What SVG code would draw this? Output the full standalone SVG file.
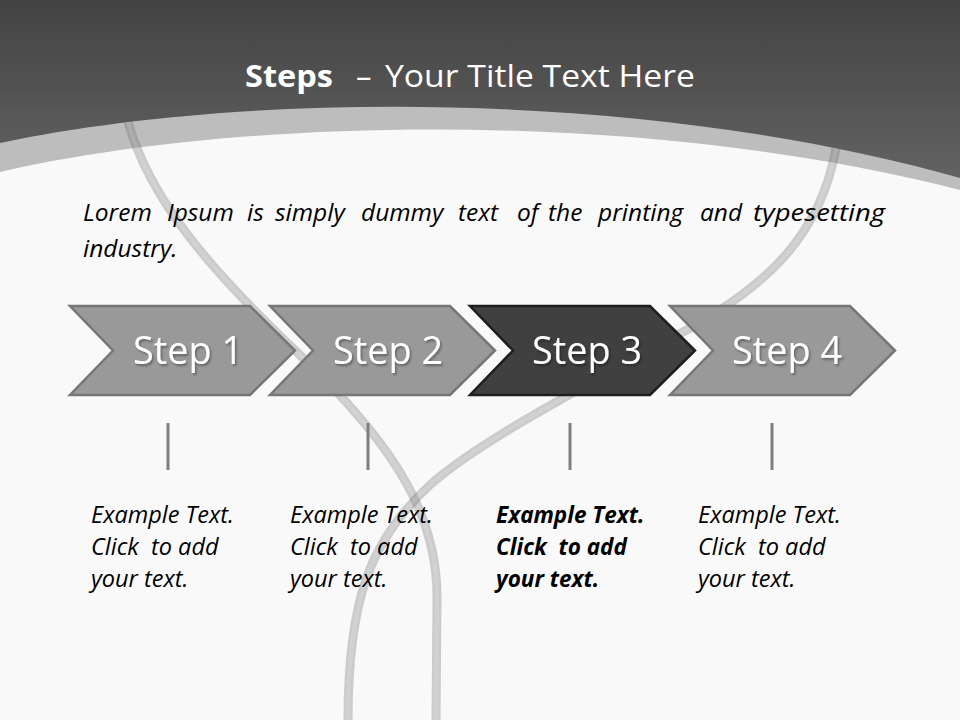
<svg xmlns="http://www.w3.org/2000/svg" width="960" height="720" viewBox="0 0 960 720">
<defs>
<linearGradient id="hdr" x1="0" y1="0" x2="0" y2="1">
<stop offset="0" stop-color="#434343"/>
<stop offset="1" stop-color="#626262"/>
</linearGradient>
<filter id="sh" x="-10%" y="-10%" width="130%" height="140%">
<feDropShadow dx="1.5" dy="2" stdDeviation="1.2" flood-color="#000" flood-opacity="0.35"/>
</filter>
<style>
.curve{fill:none;stroke:#6e6e6e;stroke-opacity:0.33;stroke-width:9;stroke-linecap:butt}
.curvehl{fill:none;stroke:#ffffff;stroke-opacity:0.12;stroke-width:4}
.chev{fill:#999999;stroke:#767676;stroke-width:2.5;stroke-linejoin:miter}
.chev.dark{fill:#404040;stroke:#1e1e1e}
.lbl{font-family:"Open Sans",Lato,sans-serif;font-size:38px;fill:#ffffff;text-anchor:middle}
.tick{stroke:#7f7f7f;stroke-width:3}
.ex{font-family:"Open Sans",Lato,sans-serif;font-style:italic;font-size:23.5px;fill:#000000}
.exb{font-weight:bold;font-size:22.5px}
.lorem{font-family:"Open Sans",Lato,sans-serif;font-style:italic;font-size:24.5px;fill:#000000}
.title{font-family:"Open Sans",Lato,sans-serif;font-size:31px;fill:#ffffff}
</style>
</defs>
<rect x="0" y="0" width="960" height="720" fill="#f9f9f9"/>
<g id="header">
<path d="M0,0 H960 V190 L960,190 C650,110 250,115 0,172 Z" fill="#bdbdbd"/>
<path d="M0,0 H960 V178 C650,90 250,90 0,143 Z" fill="url(#hdr)"/>
<text class="title" x="245" y="87" font-weight="bold" textLength="88" lengthAdjust="spacingAndGlyphs">Steps</text>
<text class="title" x="356" y="87">–</text>
<text class="title" x="385" y="87" textLength="310" lengthAdjust="spacingAndGlyphs">Your Title Text Here</text>
</g>
<g id="curves">
<path class="curve" d="M128,122 C150,200 210,270 300,355 C400,450 438,520 437,600 L436,720"/>
<path class="curvehl" d="M128,122 C150,200 210,270 300,355 C400,450 438,520 437,600 L436,720"/>
<path class="curve" d="M836,148 C820,240 760,290 683,332 C600,378 480,440 430,485 C370,540 348,600 348,720"/>
<path class="curvehl" d="M836,148 C820,240 760,290 683,332 C600,378 480,440 430,485 C370,540 348,600 348,720"/>
</g>
<g id="intro">
<text class="lorem" x="83" y="221">Lorem</text>
<text class="lorem" x="167" y="221">Ipsum</text>
<text class="lorem" x="247" y="221">is</text>
<text class="lorem" x="275" y="221">simply</text>
<text class="lorem" x="361" y="221">dummy</text>
<text class="lorem" x="458" y="221">text</text>
<text class="lorem" x="517" y="221">of</text>
<text class="lorem" x="548" y="221">the</text>
<text class="lorem" x="598" y="221">printing</text>
<text class="lorem" x="700" y="221">and</text>
<text class="lorem" x="753" y="221" textLength="132" lengthAdjust="spacingAndGlyphs">typesetting</text>
<text class="lorem" x="83" y="257">industry.</text>
</g>
<g id="step1">
<path class="chev" d="M70,306 H250 L295,350.5 L250,395 H70 L113,350.5 Z"/>
<text class="lbl" x="188" y="364" filter="url(#sh)" textLength="110" lengthAdjust="spacingAndGlyphs">Step 1</text>
</g>
<g id="step2">
<path class="chev" d="M270,306 H450 L495,350.5 L450,395 H270 L313,350.5 Z"/>
<text class="lbl" x="388" y="364" filter="url(#sh)" textLength="110" lengthAdjust="spacingAndGlyphs">Step 2</text>
</g>
<g id="step3">
<path class="chev dark" d="M470,306 H650 L695,350.5 L650,395 H470 L513,350.5 Z"/>
<text class="lbl" x="587" y="364" filter="url(#sh)" textLength="110" lengthAdjust="spacingAndGlyphs">Step 3</text>
</g>
<g id="step4">
<path class="chev" d="M670,306 H850 L895,350.5 L850,395 H670 L713,350.5 Z"/>
<text class="lbl" x="787" y="364" filter="url(#sh)" textLength="110" lengthAdjust="spacingAndGlyphs">Step 4</text>
</g>
<g id="connectors">
<line class="tick" x1="168" y1="423" x2="168" y2="470"/>
<line class="tick" x1="368" y1="423" x2="368" y2="470"/>
<line class="tick" x1="570" y1="423" x2="570" y2="470"/>
<line class="tick" x1="772" y1="423" x2="772" y2="470"/>
</g>
<g id="text1">
<text class="ex" x="91" y="523">Example Text.</text>
<text class="ex" x="91" y="555" xml:space="preserve">Click  to add</text>
<text class="ex" x="91" y="587">your text.</text>
</g>
<g id="text2">
<text class="ex" x="290" y="523">Example Text.</text>
<text class="ex" x="290" y="555" xml:space="preserve">Click  to add</text>
<text class="ex" x="290" y="587">your text.</text>
</g>
<g id="text3">
<text class="ex exb" x="496" y="523">Example Text.</text>
<text class="ex exb" x="496" y="555" xml:space="preserve">Click  to add</text>
<text class="ex exb" x="496" y="587">your text.</text>
</g>
<g id="text4">
<text class="ex" x="698" y="523">Example Text.</text>
<text class="ex" x="698" y="555" xml:space="preserve">Click  to add</text>
<text class="ex" x="698" y="587">your text.</text>
</g>
</svg>
